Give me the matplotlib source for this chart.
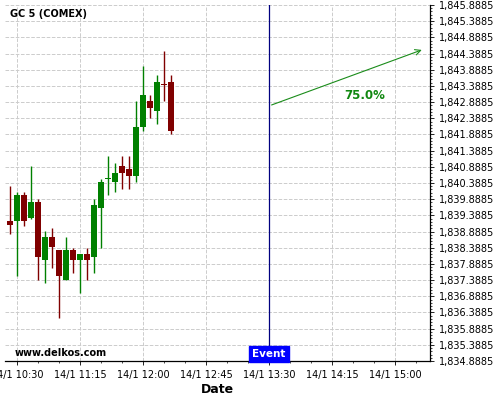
import datetime as dt
import matplotlib
matplotlib.use("Agg")
import matplotlib.pyplot as plt
import matplotlib.dates as mdates
from matplotlib.ticker import FuncFormatter, MultipleLocator

# candle data, 5 minute bars starting 10:25
start = dt.datetime(2020, 1, 14, 10, 25)
times = [start + dt.timedelta(minutes=5 * i) for i in range(24)]
opens = [1839.215, 1839.215, 1840.018, 1839.308, 1839.80, 1838.02, 1838.72, 1838.32,
         1837.39, 1838.32, 1838.02, 1838.195, 1838.11, 1839.626, 1840.52, 1840.42,
         1840.915, 1840.81, 1840.61, 1842.12, 1842.92, 1842.62, 1843.46, 1843.51]
closes = [1839.10, 1840.018, 1839.215, 1839.80, 1838.11, 1838.72, 1838.42, 1837.52,
          1838.32, 1838.02, 1838.195, 1838.02, 1839.71, 1840.41, 1840.55, 1840.70,
          1840.70, 1840.61, 1842.12, 1843.11, 1842.72, 1843.51, 1843.42, 1842.01]
highs = [1840.287, 1840.12, 1840.10, 1840.915, 1839.886, 1838.90, 1838.99, 1838.33,
         1838.72, 1838.39, 1838.20, 1838.39, 1839.886, 1840.50, 1841.21, 1841.00,
         1841.21, 1841.21, 1842.91, 1843.995, 1843.11, 1843.72, 1844.48, 1843.72]
lows = [1838.80, 1837.506, 1839.07, 1839.277, 1837.38, 1837.29, 1837.77, 1836.21,
        1837.38, 1837.60, 1836.98, 1837.38, 1837.60, 1838.39, 1840.01, 1840.10,
        1840.195, 1840.20, 1840.42, 1841.99, 1842.39, 1842.21, 1842.92, 1841.89]

event_time = dt.datetime(2020, 1, 14, 13, 30)
arrow_start = (event_time, 1842.77)
arrow_end = (dt.datetime(2020, 1, 14, 15, 21), 1844.53)
pct_label = "75.0%"

ymin, ymax = 1834.8885, 1845.8885

fig = plt.figure(figsize=(5, 4), dpi=100)
ax = fig.add_axes([0.01, 0.0975, 0.85, 0.89])

w = 3.6 / (24 * 60)
for t, o, c, h, l in zip(times, opens, closes, highs, lows):
    col = "#008000" if c >= o else "#800000"
    x = mdates.date2num(t)
    ax.vlines(x, l, h, color=col, lw=1)
    bot = min(o, c)
    hgt = max(abs(c - o), 0.03)
    ax.bar(x, hgt, width=w, bottom=bot, color=col, zorder=3)

ax.axvline(mdates.date2num(event_time), color="#000080", lw=0.9)
ax.text(mdates.date2num(event_time), ymin + 0.06, "Event", color="white",
        fontsize=7.5, fontweight="bold", ha="center", va="bottom",
        bbox=dict(boxstyle="square,pad=0.3", fc="#0000ff", ec="#0000ff"))

ax.annotate("", xy=(mdates.date2num(arrow_end[0]), arrow_end[1]),
            xytext=(mdates.date2num(arrow_start[0]), arrow_start[1]),
            arrowprops=dict(arrowstyle="->", color="#1a8c1a", lw=0.8))
ax.text(mdates.date2num(dt.datetime(2020, 1, 14, 14, 38)), 1843.1, pct_label,
        color="#118811", fontsize=8.5, fontweight="bold", ha="center", va="center")

ax.text(0.012, 0.975, "GC 5 (COMEX)", transform=ax.transAxes, fontsize=7,
        fontweight="bold", va="center")
ax.text(0.022, 0.022, "www.delkos.com", transform=ax.transAxes, fontsize=7,
        fontweight="bold", va="center")

ax.set_xlim(mdates.date2num(dt.datetime(2020, 1, 14, 10, 21, 26)),
            mdates.date2num(dt.datetime(2020, 1, 14, 15, 25)))
ax.set_ylim(ymin, ymax)

ticks = [dt.datetime(2020, 1, 14, 10, 30) + dt.timedelta(minutes=45 * i) for i in range(7)]
ax.set_xticks([mdates.date2num(t) for t in ticks])
ax.xaxis.set_minor_locator(mdates.MinuteLocator(byminute=[0, 15, 30, 45]))
ax.xaxis.set_major_formatter(FuncFormatter(
    lambda v, p: "{}/{} {}".format(mdates.num2date(v).day, mdates.num2date(v).month,
                                   mdates.num2date(v).strftime("%H:%M"))))

ax.yaxis.set_major_locator(MultipleLocator(0.5, offset=0.3885))
ax.yaxis.set_minor_locator(MultipleLocator(0.1, offset=0.0885))
ax.yaxis.set_major_formatter(FuncFormatter(lambda v, p: "{:,.4f}".format(v)))
ax.yaxis.tick_right()

ax.tick_params(labelsize=7, length=3, width=0.6)
ax.tick_params(which="minor", length=1.5, width=0.5)
ax.grid(True, which="major", color="#cccccc", ls="--", lw=0.7)

for s in ["top", "left"]:
    ax.spines[s].set_visible(False)
ax.spines["right"].set_linewidth(0.9)
ax.spines["bottom"].set_linewidth(0.9)

ax.set_xlabel("Date", fontsize=9, fontweight="bold", labelpad=2)

fig.savefig("out.png", dpi=100)
